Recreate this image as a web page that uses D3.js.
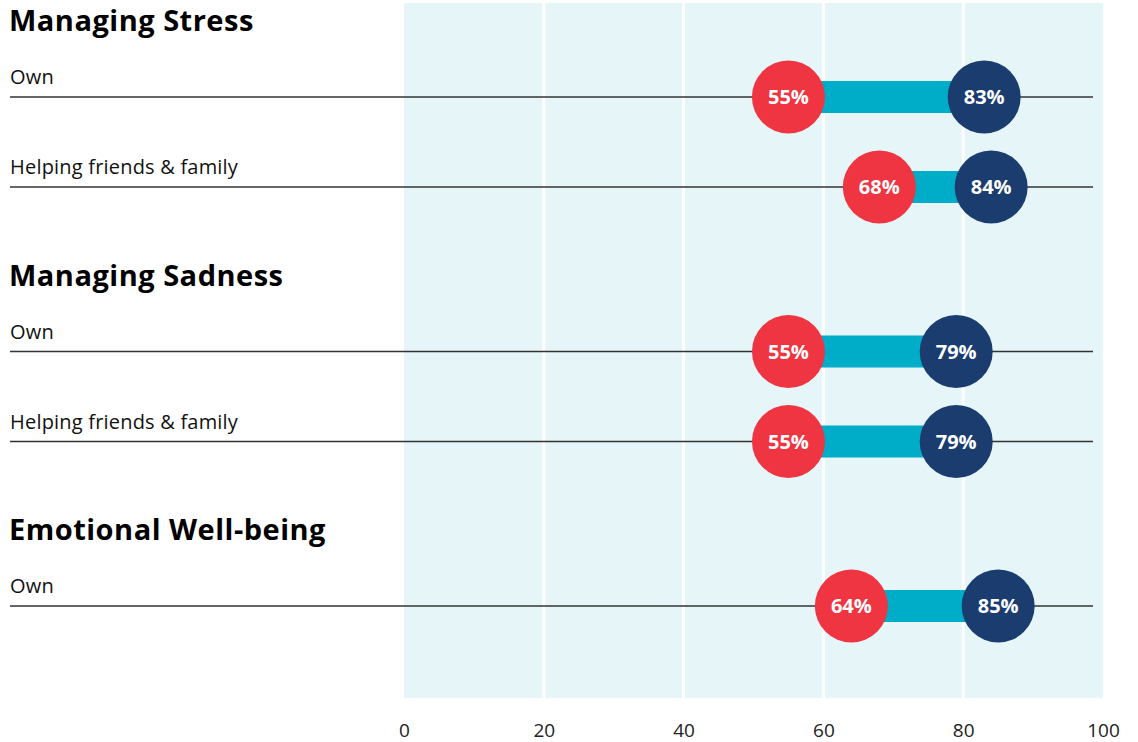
<!DOCTYPE html>
<html>
<head>
<meta charset="utf-8">
<script src="https://cdn.jsdelivr.net/npm/d3@7"></script>
<style>
  body { margin: 0; background: #fff; }
  text { font-family: "Open Sans", Lato, sans-serif; }
</style>
</head>
<body>
<div id="chart-area"></div>
<script>
var groups = ["Managing Stress", "Managing Sadness", "Emotional Well-being"];
var rowGroup = [0, 0, 1, 1, 2];
var rowIndex = [0, 1, 0, 1, 0];
var rowLabels = ["Own", "Helping friends & family", "Own", "Helping friends & family", "Own"];
var lowValues = [55, 68, 55, 55, 64];
var highValues = [83, 84, 79, 79, 85];
var ticks = [0, 20, 40, 60, 80, 100];

var width = 1138, height = 742;

var svg = d3.select("#chart-area")
  .append("svg")
  .attr("width", width)
  .attr("height", height);

var x = d3.scaleLinear()
  .domain([0, 100])
  .range([404, 1103]);

// group position (first row line of each group)
var yGroup = d3.scaleLinear()
  .domain([0, 2])
  .range([97, 606]);
var rowStep = 90;

var rows = rowLabels.map((d, i) => ({
  label: d,
  group: rowGroup[i],
  y: yGroup(rowGroup[i]) + rowIndex[i] * rowStep,
  low: lowValues[i],
  high: highValues[i]
}));

// background panel
svg.append("rect")
  .attr("x", x(0))
  .attr("y", 3)
  .attr("width", x(100) - x(0))
  .attr("height", 695)
  .attr("fill", "#e5f5f8");

// grid lines
svg.selectAll(".grid")
  .data(ticks.slice(1, -1))
  .enter()
  .append("line")
  .attr("x1", d => x(d))
  .attr("x2", d => x(d))
  .attr("y1", 3)
  .attr("y2", 698)
  .attr("stroke", "#fff")
  .attr("stroke-width", 3);

// x axis
var xAxis = svg.append("g")
  .attr("transform", "translate(0,720)")
  .call(d3.axisBottom(x).tickValues(ticks).tickSize(0).tickPadding(0));
xAxis.select(".domain").remove();
xAxis.selectAll("text")
  .attr("font-size", "19px")
  .attr("fill", "#222")
  .attr("dy", "0.9em")
  .style("font-family", "'Open Sans', sans-serif");

// group titles
svg.selectAll(".title")
  .data(groups)
  .enter()
  .append("text")
  .attr("x", 9)
  .attr("y", (d, i) => yGroup(i) - 66)
  .attr("font-size", "29px")
  .attr("font-weight", "bold")
  .attr("letter-spacing", "0.5px")
  .attr("fill", "#000")
  .text(d => d);

// row labels
svg.selectAll(".row-label")
  .data(rows)
  .enter()
  .append("text")
  .attr("x", 10)
  .attr("y", d => d.y - 13)
  .attr("font-size", "20px")
  .attr("letter-spacing", "0.2px")
  .attr("fill", "#111")
  .text(d => d.label);

// row lines
svg.selectAll(".row-line")
  .data(rows)
  .enter()
  .append("line")
  .attr("x1", 10)
  .attr("x2", 1093)
  .attr("y1", d => d.y)
  .attr("y2", d => d.y)
  .attr("stroke", "#333")
  .attr("stroke-width", 1.5);

// connecting bars
svg.selectAll(".bar")
  .data(rows)
  .enter()
  .append("rect")
  .attr("x", d => x(d.low))
  .attr("y", d => d.y - 16)
  .attr("width", d => x(d.high) - x(d.low))
  .attr("height", 32)
  .attr("fill", "#00adc8");

var r = 36.5;

// low dots
svg.selectAll(".low")
  .data(rows)
  .enter()
  .append("circle")
  .attr("cx", d => x(d.low))
  .attr("cy", d => d.y)
  .attr("r", r)
  .attr("fill", "#ef3442");

// high dots
svg.selectAll(".high")
  .data(rows)
  .enter()
  .append("circle")
  .attr("cx", d => x(d.high))
  .attr("cy", d => d.y)
  .attr("r", r)
  .attr("fill", "#1a3c6e");

// value labels
["low", "high"].forEach(k => {
  svg.selectAll(".lbl-" + k)
    .data(rows)
    .enter()
    .append("text")
    .attr("x", d => x(d[k]))
    .attr("y", d => d.y)
    .attr("dy", "0.36em")
    .attr("text-anchor", "middle")
    .attr("font-size", "20px")
    .attr("font-weight", "bold")
    .attr("fill", "#fff")
    .text(d => d[k] + "%");
});
</script>
</body>
</html>
